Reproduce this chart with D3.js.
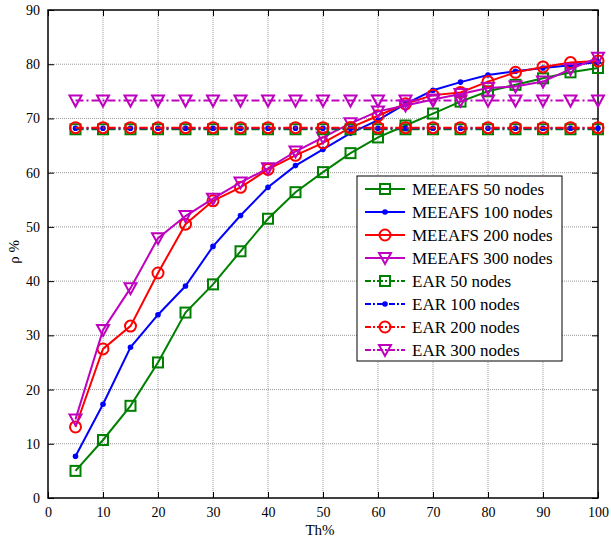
<!DOCTYPE html>
<html><head><meta charset="utf-8">
<script src="https://cdn.jsdelivr.net/npm/d3@7"></script>
<style>body{margin:0;background:#fff}svg{display:block}</style>
</head><body><svg id="c" width="611" height="539"></svg>
<script>
const thValues = [5,10,15,20,25,30,35,40,45,50,55,60,65,70,75,80,85,90,95,100];
const meeafs50  = [5.0,10.7,17.0,25.0,34.2,39.4,45.5,51.5,56.4,60.1,63.6,66.5,68.7,70.9,73.1,75.0,76.2,77.4,78.5,79.3];
const meeafs100 = [7.7,17.3,27.8,33.8,39.1,46.4,52.1,57.3,61.3,64.3,67.3,69.7,72.7,75.2,76.7,78.0,78.7,79.3,79.8,80.4];
const meeafs200 = [13.1,27.5,31.7,41.5,50.5,54.8,57.3,60.6,63.2,65.5,68.3,70.5,72.7,74.3,74.8,76.8,78.5,79.5,80.3,80.6];
const meeafs300 = [14.5,31.0,38.7,47.9,52.0,55.2,58.2,60.8,63.9,66.5,69.1,71.3,72.4,73.5,74.5,75.6,75.9,76.8,79.1,81.2];
const ear50  = [68.0,68.0,68.0,68.0,68.0,68.0,68.0,68.0,68.0,68.0,68.0,68.0,68.0,68.0,68.0,68.0,68.0,68.0,68.0,68.0];
const ear100 = [68.2,68.2,68.2,68.2,68.2,68.2,68.2,68.2,68.2,68.2,68.2,68.2,68.2,68.2,68.2,68.2,68.2,68.2,68.2,68.2];
const ear200 = [68.3,68.3,68.3,68.3,68.3,68.3,68.3,68.3,68.3,68.3,68.3,68.3,68.3,68.3,68.3,68.3,68.3,68.3,68.3,68.3];
const ear300 = [73.3,73.3,73.3,73.3,73.3,73.3,73.3,73.3,73.3,73.3,73.3,73.3,73.3,73.3,73.3,73.3,73.3,73.3,73.3,73.3];
const seriesNames = ["MEEAFS 50 nodes","MEEAFS 100 nodes","MEEAFS 200 nodes","MEEAFS 300 nodes","EAR 50 nodes","EAR 100 nodes","EAR 200 nodes","EAR 300 nodes"];
const xTicks = [0,10,20,30,40,50,60,70,80,90,100];
const yTicks = [0,10,20,30,40,50,60,70,80,90];

const FONT="Liberation Serif, DejaVu Serif, serif";
const colors = ["#008000","#0000ff","#ff0000","#bf00bf","#008000","#0000ff","#ff0000","#bf00bf"];
const markers = ["square","dot","circle","tri","square","dot","circle","tri"];
const dashed = [false,false,false,false,true,true,true,true];
const allData = [meeafs50,meeafs100,meeafs200,meeafs300,ear50,ear100,ear200,ear300];

const L=48,R=598,T=10,B=498;
const svg=d3.select("#c");
const x=d3.scaleLinear().domain([0,100]).range([L,R]);
const y=d3.scaleLinear().domain([0,90]).range([B,T]);

const g=svg.append("g");
g.selectAll(".gx").data(xTicks.slice(1,-1)).enter().append("line")
 .attr("x1",d=>x(d)).attr("x2",d=>x(d)).attr("y1",T).attr("y2",B)
 .attr("stroke","#999").attr("stroke-width",1).attr("stroke-dasharray","1,1");
g.selectAll(".gy").data(yTicks.slice(1,-1)).enter().append("line")
 .attr("y1",d=>y(d)).attr("y2",d=>y(d)).attr("x1",L).attr("x2",R)
 .attr("stroke","#999").attr("stroke-width",1).attr("stroke-dasharray","1,1");

const ax=svg.append("g").attr("transform",`translate(0,${B})`).call(d3.axisBottom(x).tickValues(xTicks).tickSize(-6).tickPadding(9));
const ay=svg.append("g").attr("transform",`translate(${L},0)`).call(d3.axisLeft(y).tickValues(yTicks).tickSize(-6).tickPadding(8));
const axT=svg.append("g").attr("transform",`translate(0,${T})`).call(d3.axisTop(x).tickValues(xTicks).tickSize(-6).tickFormat(""));
const ayR=svg.append("g").attr("transform",`translate(${R},0)`).call(d3.axisRight(y).tickValues(yTicks).tickSize(-6).tickFormat(""));
[ax,ay,axT,ayR].forEach(a=>{a.attr("font-family",null).attr("font-size",null);a.select(".domain").remove();a.selectAll("line").attr("stroke","#000");
  a.selectAll("text").attr("fill","#000").style("font-family",FONT).style("font-size","14px");});
svg.append("rect").attr("x",L).attr("y",T).attr("width",R-L).attr("height",B-T).attr("fill","none").attr("stroke","#000").attr("stroke-width",1.5);

function drawMarker(sel,type,color,cx,cy){
  if(type==="square") sel.append("rect").attr("x",cx-5).attr("y",cy-5).attr("width",10).attr("height",10).attr("fill","none").attr("stroke",color).attr("stroke-width",2);
  else if(type==="circle") sel.append("circle").attr("cx",cx).attr("cy",cy).attr("r",5.5).attr("fill","none").attr("stroke",color).attr("stroke-width",2);
  else if(type==="dot") sel.append("circle").attr("cx",cx).attr("cy",cy).attr("r",2.8).attr("fill",color);
  else if(type==="tri") sel.append("path").attr("d",`M${cx-6},${cy-5}L${cx+6},${cy-5}L${cx},${cy+6}Z`).attr("fill","none").attr("stroke",color).attr("stroke-width",2);
}

const line=d3.line().x((d,i)=>x(thValues[i])).y(d=>y(d));
allData.forEach((vals,k)=>{
  const s=svg.append("g");
  s.append("path").datum(vals).attr("d",line).attr("fill","none").attr("stroke",colors[k]).attr("stroke-width",2)
   .attr("stroke-dasharray",dashed[k]?"8,3,2,3":null);
  vals.forEach((v,i)=>drawMarker(s,markers[k],colors[k],x(thValues[i]),y(v)));
});

const lx=357,ly=176,lw=205,lh=185;
const lg=svg.append("g");
lg.append("rect").attr("x",lx).attr("y",ly).attr("width",lw).attr("height",lh).attr("fill","#fff").attr("stroke","#000").attr("stroke-width",1);
seriesNames.forEach((n,k)=>{
  const yy=ly+13+k*23;
  lg.append("line").attr("x1",lx+8).attr("x2",lx+48).attr("y1",yy).attr("y2",yy).attr("stroke",colors[k]).attr("stroke-width",2)
   .attr("stroke-dasharray",dashed[k]?"6,2,2,2":null);
  drawMarker(lg,markers[k],colors[k],lx+28,yy);
  lg.append("text").attr("x",lx+55).attr("y",yy+6).style("font-family",FONT).style("font-size","17px").attr("fill","#000").text(n);
});

svg.append("text").attr("x",320).attr("y",535).attr("text-anchor","middle").style("font-family",FONT).style("font-size","15px").text("Th%");
svg.append("text").attr("transform","translate(19,252) rotate(-90)").attr("text-anchor","middle").style("font-family",FONT).style("font-size","15px").text("ρ %");
</script></body></html>
